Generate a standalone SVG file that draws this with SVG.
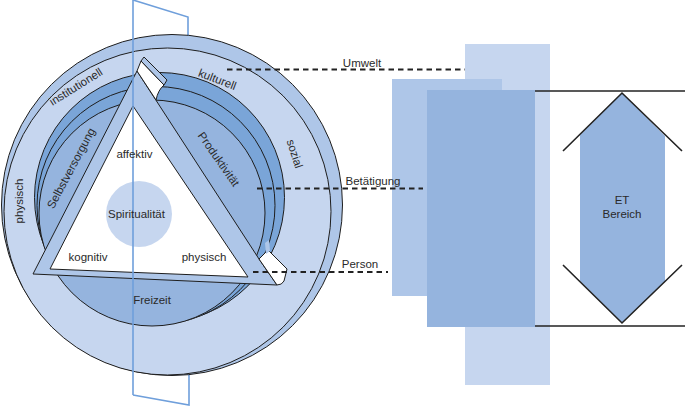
<svg xmlns="http://www.w3.org/2000/svg" width="685" height="407" viewBox="0 0 685 407">
<style>
text{font-family:"Liberation Sans",Arial,sans-serif;font-size:11.5px;fill:#2a2a2a}
.mid{text-anchor:middle}
.ln{stroke:#1e1e1e;stroke-width:1}
.l1{fill:#c6d6ef}
.l2{fill:#aec6e8}
.l3{fill:#95b4de}
.l4{fill:#7aa5d8}
.dash{fill:none;stroke:#222;stroke-width:1.8;stroke-dasharray:5.5 4}
.bar{fill:none;stroke:#222;stroke-width:1.6}
.plane{fill:none;stroke:#6f9fdb;stroke-width:1.6}
</style>
<rect width="685" height="407" fill="#fff"/>

<g id="plane-back">
<polyline class="plane" points="133,0 188,17 188,36"/>
<polyline class="plane" points="189,372 189,405 133,395"/>
</g>

<g id="umwelt-disc">
<circle class="l2 ln" cx="172" cy="205" r="170.5"/>
<circle class="l1 ln" cx="167.5" cy="211.5" r="163.5"/>
</g>

<g id="betaetigung-disc">
<circle class="l4 ln" cx="159.5" cy="197.5" r="125"/>
<circle class="l4 ln" cx="156" cy="205.5" r="119"/>
<circle class="l3 ln" cx="152" cy="213" r="113"/>
</g>

<g id="person-triangle">
<polygon class="l2 ln" points="137,71 33,274 277,285 259,259"/>
<polygon fill="#fff" class="ln" points="133,106 50,269 248,277"/>
<path fill="#fff" class="ln" d="M137,71 L141,61 L164,85 Q158,90 156,100 Z"/>
<polygon class="l2 ln" points="141,61 144,57 167,80 164,85"/>
<path fill="#fff" class="ln" d="M259,259 L268,250 L287,269 L284,281 Q282,285 277,285 Z"/>
<polygon class="l2" points="265,243 269,240 270,251 266,254"/>
</g>

<g id="spiritualitaet">
<circle class="l1" cx="139" cy="214" r="33"/>
</g>

<g id="plane-front">
<line class="plane" x1="133" y1="0" x2="133" y2="395"/>
</g>

<g id="labels-disc">
<text class="mid" transform="translate(23,201) rotate(-90)">physisch</text>
<text class="mid" transform="translate(78,90) rotate(-32)">institutionell</text>
<text class="mid" transform="translate(216,83) rotate(21)">kulturell</text>
<text class="mid" transform="translate(291,155) rotate(72)">sozial</text>
<text class="mid" transform="translate(74.5,170) rotate(-62)">Selbstversorgung</text>
<text class="mid" transform="translate(215.5,161.5) rotate(55)">Produktivität</text>
<text class="mid" x="134.5" y="158">affektiv</text>
<text class="mid" x="136.5" y="218">Spiritualität</text>
<text class="mid" x="88" y="261">kognitiv</text>
<text class="mid" x="204" y="261">physisch</text>
<text class="mid" x="152" y="304">Freizeit</text>
</g>

<g id="et-blocks">
<rect class="l1" x="465" y="44" width="85" height="341"/>
<rect class="l2" x="392" y="79" width="110" height="217"/>
<rect class="l3" x="427" y="90" width="108" height="237"/>
</g>

<g id="et-bereich">
<polygon class="l3" points="622,93 665,136 665,281 622,323 580,281 580,135"/>
<line class="bar" x1="535" y1="91" x2="685" y2="91"/>
<line class="bar" x1="535" y1="326" x2="685" y2="326"/>
<polyline class="bar" points="563,151 622,93 682,151"/>
<polyline class="bar" points="563,265 622,323 682,265"/>
<text class="mid" x="622" y="204">ET</text>
<text class="mid" x="622" y="218">Bereich</text>
</g>

<g id="connectors">
<line class="dash" x1="227" y1="69.5" x2="465" y2="69.5"/>
<line class="dash" x1="257" y1="188.5" x2="423" y2="188.5"/>
<line class="dash" x1="253" y1="272" x2="388" y2="272"/>
<text class="mid" x="362" y="67">Umwelt</text>
<text class="mid" x="373" y="185">Betätigung</text>
<text class="mid" x="360" y="268">Person</text>
</g>
</svg>
